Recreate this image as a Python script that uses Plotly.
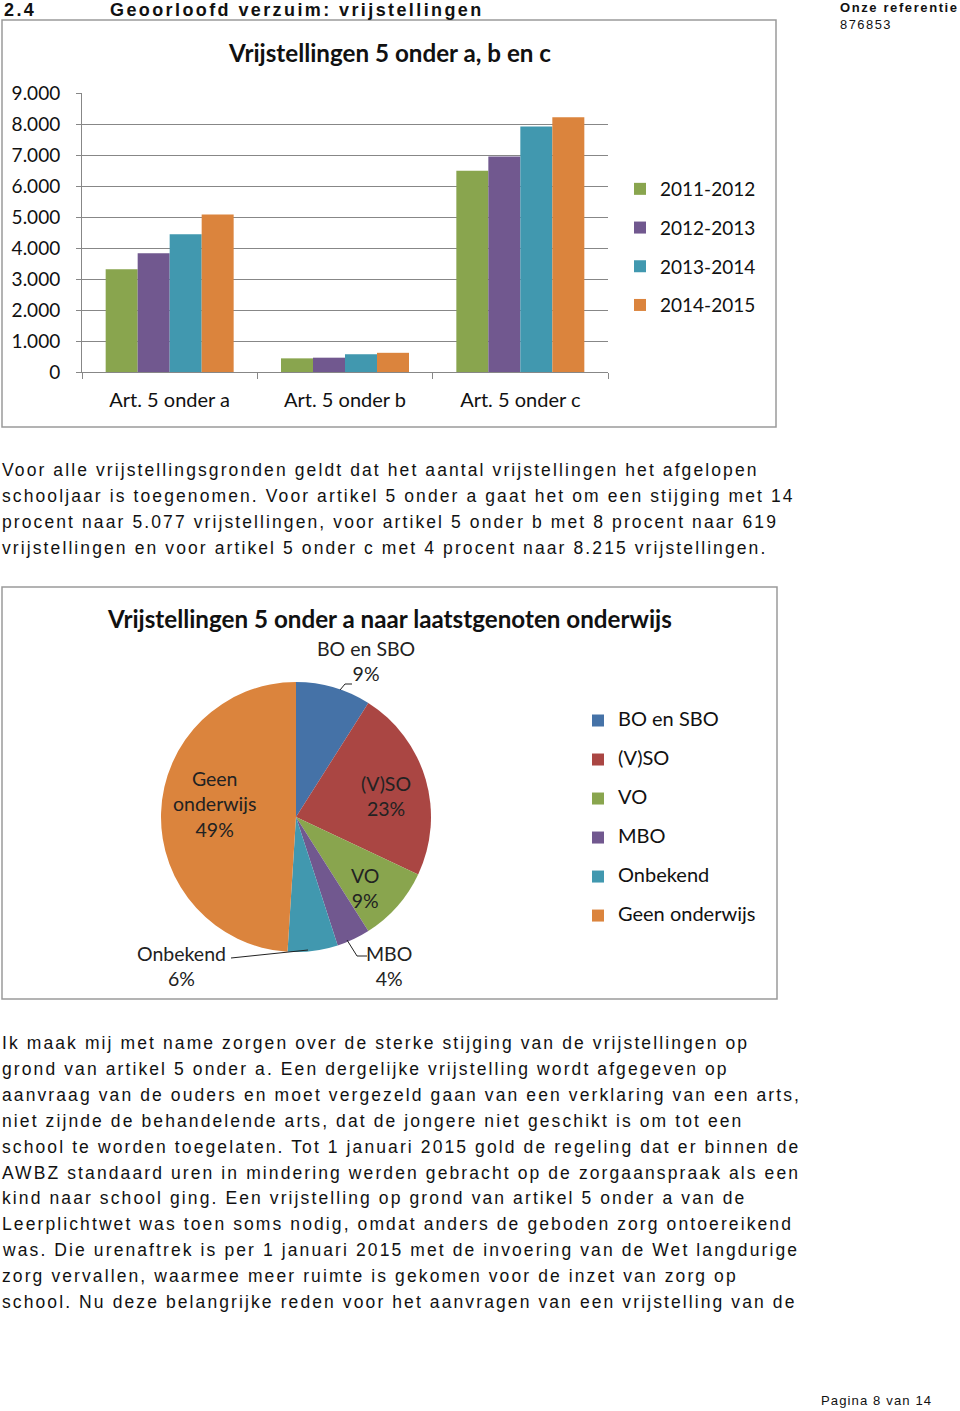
import plotly.graph_objects as go

# ---------------- data ----------------
categories = ["Art. 5 onder a", "Art. 5 onder b", "Art. 5 onder c"]
years = ["2011-2012", "2012-2013", "2013-2014", "2014-2015"]
v_2011_2012 = [3315, 440, 6490]
v_2012_2013 = [3830, 462, 6950]
v_2013_2014 = [4445, 573, 7920]
v_2014_2015 = [5077, 619, 8215]
bar_series = [v_2011_2012, v_2012_2013, v_2013_2014, v_2014_2015]
bar_colors = ["#89A54E", "#71588F", "#4198AF", "#DB843D"]
y_ticks = [0, 1000, 2000, 3000, 4000, 5000, 6000, 7000, 8000, 9000]

pie_labels = ["BO en SBO", "(V)SO", "VO", "MBO", "Onbekend", "Geen onderwijs"]
pie_values = [9, 23, 9, 4, 6, 49]
pie_colors = ["#4572A7", "#AA4643", "#89A54E", "#71588F", "#4198AF", "#DB843D"]

header_num = "2.4"
header_title = "Geoorloofd verzuim: vrijstellingen"
ref_label = "Onze referentie"
ref_number = "876853"
bar_title = "Vrijstellingen 5 onder a, b en c"
pie_title = "Vrijstellingen 5 onder a naar laatstgenoten onderwijs"
footer = "Pagina 8 van 14"

para1 = [
    "Voor alle vrijstellingsgronden geldt dat het aantal vrijstellingen het afgelopen",
    "schooljaar is toegenomen. Voor artikel 5 onder a gaat het om een stijging met 14",
    "procent naar 5.077 vrijstellingen, voor artikel 5 onder b met 8 procent naar 619",
    "vrijstellingen en voor artikel 5 onder c met 4 procent naar 8.215 vrijstellingen.",
]
para2 = [
    "Ik maak mij met name zorgen over de sterke stijging van de vrijstellingen op",
    "grond van artikel 5 onder a. Een dergelijke vrijstelling wordt afgegeven op",
    "aanvraag van de ouders en moet vergezeld gaan van een verklaring van een arts,",
    "niet zijnde de behandelende arts, dat de jongere niet geschikt is om tot een",
    "school te worden toegelaten. Tot 1 januari 2015 gold de regeling dat er binnen de",
    "AWBZ standaard uren in mindering werden gebracht op de zorgaanspraak als een",
    "kind naar school ging. Een vrijstelling op grond van artikel 5 onder a van de",
    "Leerplichtwet was toen soms nodig, omdat anders de geboden zorg ontoereikend",
    "was. Die urenaftrek is per 1 januari 2015 met de invoering van de Wet langdurige",
    "zorg vervallen, waarmee meer ruimte is gekomen voor de inzet van zorg op",
    "school. Nu deze belangrijke reden voor het aanvragen van een vrijstelling van de",
]

# ---------------- layout helpers ----------------
W, H = 960, 1411


def px(x):
    return x / W


def py(y):
    return 1 - y / H


CHART_FONT = "Lato"
BODY_FONT = "Liberation Sans"
GRID = "#878787"

fig = go.Figure()

for name, vals, col in zip(years, bar_series, bar_colors):
    fig.add_trace(go.Bar(
        x=categories, y=vals, name=name, marker=dict(color=col, line=dict(width=0)),
        legendgroup=name, legend="legend", hoverinfo="x+y+name",
    ))

# legend entries for the pie: big first line + blank line to get Excel-like row spacing
pie_legend_labels = ['<span style="font-size:20px">' + lab + '</span><br> ' for lab in pie_labels]

fig.add_trace(go.Pie(
    labels=pie_legend_labels, values=pie_values, sort=False, direction="clockwise",
    rotation=0, marker=dict(colors=pie_colors, line=dict(width=0)),
    textinfo="none", legend="legend2", showlegend=True, automargin=False,
    hovertext=pie_labels, hoverinfo="text+percent",
    domain=dict(x=[px(161), px(431)], y=[py(952), py(682)]),
))


def ann(text, x, y, size, family, xanchor="left", color="#111"):
    return dict(text=text, x=px(x), y=py(y), xref="paper", yref="paper", showarrow=False,
                xanchor=xanchor, yanchor="middle", align=xanchor if xanchor != "center" else "center",
                font=dict(family=family, size=size, color=color))


annotations = []

# page header
annotations.append(ann("<b>" + header_num + "</b>", 2, 10, 18, BODY_FONT))
annotations.append(ann("<b>" + header_title + "</b>", 108, 10, 18, BODY_FONT))
annotations.append(ann("<b>" + ref_label + "</b>", 838, 7, 13, BODY_FONT))
annotations.append(ann(ref_number, 838, 25, 12.9, BODY_FONT))

# chart titles
annotations.append(ann("<b>" + bar_title + "</b>", 389, 52, 24.2, CHART_FONT, "center"))
annotations.append(ann("<b>" + pie_title + "</b>", 389, 618, 24.2, CHART_FONT, "center"))

# body paragraphs
for i, line in enumerate(para1):
    annotations.append(ann(line, 0, 470 + 26 * i, 17.5, BODY_FONT))
for i, line in enumerate(para2):
    annotations.append(ann(line, 0, 1043 + 25.9 * i, 17.5, BODY_FONT))

annotations.append(ann(footer, 819, 1400, 13.1, BODY_FONT))

# pie data labels (text positions only)
label_pos = {
    "BO en SBO": (366, 661),
    "(V)SO": (386, 796),
    "VO": (365, 888),
    "MBO": (389, 966),
    "Onbekend": (181, 966),
    "Geen onderwijs": (214, 804),
}
for lab, val in zip(pie_labels, pie_values):
    t = lab.replace("Geen onderwijs", "Geen<br>onderwijs") + "<br>" + f"{val}%"
    x, y = label_pos[lab]
    annotations.append(ann(t, x, y, 19.5, CHART_FONT, "center", "#222"))

shapes = [
    dict(type="rect", xref="paper", yref="paper", x0=px(2), x1=px(776), y0=py(427), y1=py(20),
         line=dict(color="#9a9a9a", width=1.5)),
    dict(type="rect", xref="paper", yref="paper", x0=px(2), x1=px(777), y0=py(999), y1=py(587),
         line=dict(color="#9a9a9a", width=1.5)),
    # leader lines
    dict(type="path", xref="paper", yref="paper",
         path=f"M{px(340)},{py(690)} L{px(345)},{py(684)} L{px(352)},{py(684)}",
         line=dict(color="#222", width=1)),
    dict(type="path", xref="paper", yref="paper",
         path=f"M{px(347)},{py(940)} L{px(357)},{py(956)} L{px(367)},{py(956)}",
         line=dict(color="#222", width=1)),
    dict(type="path", xref="paper", yref="paper",
         path=f"M{px(231)},{py(958)} L{px(308)},{py(950)}",
         line=dict(color="#222", width=1)),
]

fig.update_layout(
    template="none",
    width=W, height=H, margin=dict(l=0, r=0, t=0, b=0, pad=0, autoexpand=False),
    paper_bgcolor="white", plot_bgcolor="white",
    separators=",.",
    barmode="group", bargap=0.27, bargroupgap=0,
    annotations=annotations, shapes=shapes,
    xaxis=dict(domain=[px(82), px(608)], showgrid=False, showline=True, linecolor=GRID, linewidth=1,
               ticks="outside", tickson="boundaries", ticklen=6, tickcolor=GRID, tickangle=0,
               automargin=False,
               tickfont=dict(family=CHART_FONT, size=20, color="#111"), ticklabelstandoff=10),
    yaxis=dict(domain=[py(372), py(93)], range=[0, 9000], tickvals=y_ticks, tickformat=",d",
               showgrid=True, gridcolor=GRID, gridwidth=1, showline=True, linecolor=GRID, linewidth=1,
               ticks="outside", ticklen=5, tickcolor=GRID, zeroline=False, automargin=False,
               tickfont=dict(family=CHART_FONT, size=19, color="#111"), ticklabelstandoff=12),
    legend=dict(x=px(620), y=py(170), xanchor="left", yanchor="top", bgcolor="rgba(0,0,0,0)",
                font=dict(family=CHART_FONT, size=19, color="#111"), tracegroupgap=11,
                itemclick=False, borderwidth=0),
    legend2=dict(x=px(578), y=py(705), xanchor="left", yanchor="top", bgcolor="rgba(0,0,0,0)",
                 font=dict(family=CHART_FONT, size=13.85, color="#111"), valign="top",
                 itemclick=False, borderwidth=0),
    showlegend=True,
)

# document-style letter spacing for the body font (left-aligned text grows rightwards)
post = """
var spacing = {'18px': '2.4px', '17.5px': '2.1px', '13px': '1.6px', '12.9px': '1.5px', '13.1px': '1.1px'};
document.querySelectorAll('.annotation-text').forEach(function(e){
  var ff = e.style.fontFamily || '';
  if (ff.indexOf('Liberation Sans') >= 0) {
    var s = spacing[e.style.fontSize];
    if (s) { e.style.letterSpacing = s; }
  }
});
"""

fig.write_html("out.html", post_script=post)
